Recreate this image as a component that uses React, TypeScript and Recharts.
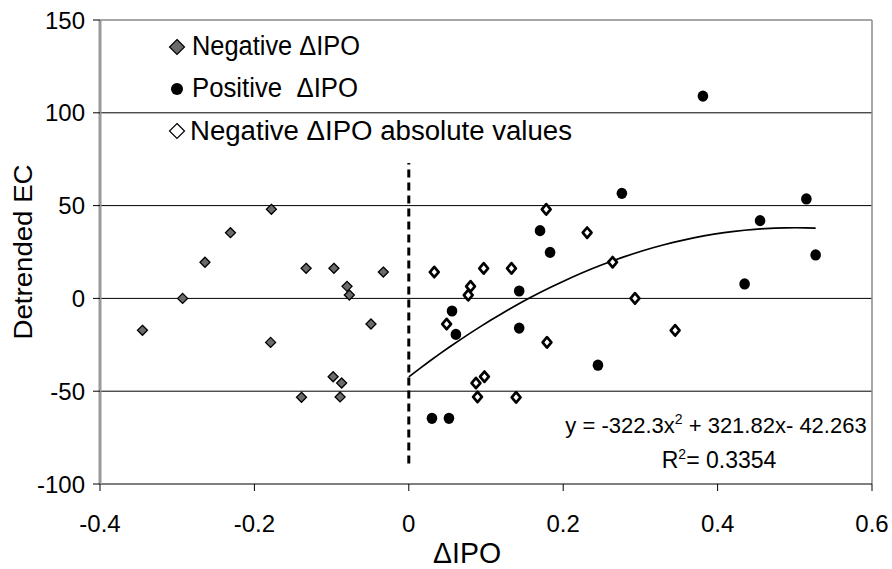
import React from 'react';
import { ScatterChart, Scatter, XAxis, YAxis, ReferenceLine } from 'recharts';

// Negative ΔIPO (grey diamonds)
const negativeIPO = [
  { x: -0.345, y: -17.2 },
  { x: -0.293, y: 0 },
  { x: -0.264, y: 19.5 },
  { x: -0.231, y: 35.4 },
  { x: -0.178, y: 48 },
  { x: -0.179, y: -23.7 },
  { x: -0.133, y: 16.2 },
  { x: -0.097, y: 16.2 },
  { x: -0.08, y: 6.5 },
  { x: -0.077, y: 1.8 },
  { x: -0.033, y: 14.2 },
  { x: -0.049, y: -13.8 },
  { x: -0.098, y: -42.2 },
  { x: -0.087, y: -45.6 },
  { x: -0.139, y: -53.3 },
  { x: -0.089, y: -53.1 },
];

// Positive ΔIPO (black circles)
const positiveIPO = [
  { x: 0.03, y: -64.6 },
  { x: 0.052, y: -64.6 },
  { x: 0.056, y: -6.8 },
  { x: 0.061, y: -19.4 },
  { x: 0.143, y: 4 },
  { x: 0.143, y: -16 },
  { x: 0.17, y: 36.5 },
  { x: 0.183, y: 24.8 },
  { x: 0.245, y: -36 },
  { x: 0.276, y: 56.6 },
  { x: 0.381, y: 109 },
  { x: 0.435, y: 7.8 },
  { x: 0.455, y: 41.9 },
  { x: 0.515, y: 53.6 },
  { x: 0.527, y: 23.4 },
];

// Negative ΔIPO absolute values (hollow diamonds) = |x| of the negative series
const negativeAbsIPO = negativeIPO.map((p) => ({ x: Math.abs(p.x), y: p.y }));

// Polynomial trendline printed on the chart
const trendCoef = { a: -322.3, b: 321.82, c: -42.263 };
const trendRange = [0, 0.527];
const trendSteps = 40;
const trendPoints = Array.from({ length: trendSteps + 1 }, (_, i) => {
  const x = trendRange[0] + ((trendRange[1] - trendRange[0]) * i) / trendSteps;
  return { x, y: trendCoef.a * x * x + trendCoef.b * x + trendCoef.c };
});

const xTicks = [-0.4, -0.2, 0, 0.2, 0.4, 0.6];
const yTicks = [-100, -50, 0, 50, 100, 150];
const gridValues = [-50, 0, 50, 100];
const divider = { x: 0, yFrom: -89, yTo: 73 };

const legendLabels = ['Negative ΔIPO', 'Positive\u00A0\u00A0ΔIPO', 'Negative ΔIPO absolute values'];

const FONT = '"Liberation Sans", Arial, sans-serif';

const GrayDiamond = (p: any) => {
  const { cx, cy } = p;
  if (cx == null || cy == null) return <g />;
  const s = 5;
  return (
    <polygon
      points={`${cx},${cy - s} ${cx + s},${cy} ${cx},${cy + s} ${cx - s},${cy}`}
      fill="#6b6b6b"
      stroke="#000"
      strokeWidth={1.3}
    />
  );
};

const HollowDiamond = (p: any) => {
  const { cx, cy } = p;
  if (cx == null || cy == null) return <g />;
  const sx = 4.4;
  const sy = 5.2;
  return (
    <polygon
      points={`${cx},${cy - sy} ${cx + sx},${cy} ${cx},${cy + sy} ${cx - sx},${cy}`}
      fill="#fff"
      stroke="#000"
      strokeWidth={2.7}
      strokeLinejoin="round"
    />
  );
};

const BlackDot = (p: any) => {
  const { cx, cy } = p;
  if (cx == null || cy == null) return <g />;
  return <ellipse cx={cx} cy={cy} rx={5.3} ry={5.6} fill="#000" />;
};

const NoShape = () => <g />;

export default function App() {
  return (
    <div style={{ position: 'absolute', left: 0, top: 0, width: 892, height: 569, background: '#fff' }}>
      <ScatterChart
        width={892}
        height={569}
        margin={{ top: 20, right: 20, bottom: 0, left: 0 }}
        style={{ fontFamily: FONT }}
      >
        <XAxis
          type="number"
          dataKey="x"
          domain={[-0.4, 0.6]}
          ticks={xTicks}
          allowDataOverflow
          height={85}
          tickSize={7}
          tickMargin={24}
          axisLine={{ stroke: '#000', strokeWidth: 1.2 }}
          tickLine={{ stroke: '#000', strokeWidth: 1 }}
          tick={{ fill: '#000', fontSize: 24, fontFamily: FONT }}
          tickFormatter={(v: number) => String(v)}
        />
        <YAxis
          type="number"
          dataKey="y"
          domain={[-100, 150]}
          ticks={yTicks}
          allowDataOverflow
          width={100}
          tickSize={7}
          tickMargin={8}
          axisLine={{ stroke: '#9a9a9a', strokeWidth: 3 }}
          tickLine={{ stroke: '#000', strokeWidth: 1 }}
          tick={{ fill: '#000', fontSize: 24, fontFamily: FONT }}
        />
        {gridValues.map((v) => (
          <ReferenceLine key={v} y={v} stroke="#000" strokeWidth={1} />
        ))}
        <ReferenceLine y={150} stroke="#8a8a8a" strokeWidth={1.5} />
        <ReferenceLine x={0.6} stroke="#8a8a8a" strokeWidth={1.5} />
        <ReferenceLine
          segment={[
            { x: divider.x, y: divider.yFrom },
            { x: divider.x, y: divider.yTo },
          ]}
          stroke="#000"
          strokeWidth={3}
          strokeDasharray="8 5"
        />
        <Scatter
          name="trend"
          data={trendPoints}
          line={{ stroke: '#000', strokeWidth: 1.7 }}
          lineType="joint"
          shape={NoShape}
          isAnimationActive={false}
        />
        <Scatter name="Negative ΔIPO" data={negativeIPO} shape={GrayDiamond} isAnimationActive={false} />
        <Scatter name="Positive ΔIPO" data={positiveIPO} shape={BlackDot} isAnimationActive={false} />
        <Scatter
          name="Negative ΔIPO absolute values"
          data={negativeAbsIPO}
          shape={HollowDiamond}
          isAnimationActive={false}
        />

        {/* Axis titles */}
        <text
          x={32}
          y={252}
          transform="rotate(-90 32 252)"
          textAnchor="middle"
          fontSize={26}
          fontFamily={FONT}
          fill="#000"
          textLength={175}
          lengthAdjust="spacingAndGlyphs"
        >
          Detrended EC
        </text>
        <text
          x={467}
          y={563}
          textAnchor="middle"
          fontSize={30}
          fontFamily={FONT}
          fill="#000"
          textLength={68}
          lengthAdjust="spacingAndGlyphs"
        >
          ΔIPO
        </text>

        {/* Legend */}
        <g fontFamily={FONT} fill="#000">
          <polygon points="177,39.5 184.5,47 177,54.5 169.5,47" fill="#6b6b6b" stroke="#000" strokeWidth={1.2} />
          <text x={192} y={55} fontSize={27} textLength={168} lengthAdjust="spacingAndGlyphs">
            {legendLabels[0]}
          </text>
          <circle cx={177} cy={89} r={6} fill="#000" />
          <text x={192} y={97} fontSize={27} textLength={166} lengthAdjust="spacingAndGlyphs">
            {legendLabels[1]}
          </text>
          <polygon points="177,123.5 184.5,131 177,138.5 169.5,131" fill="#fff" stroke="#000" strokeWidth={1.2} />
          <text x={190} y={140} fontSize={27} textLength={382} lengthAdjust="spacingAndGlyphs">
            {legendLabels[2]}
          </text>
        </g>

        {/* Trendline equation */}
        <g fontFamily={FONT} fill="#000">
          <text x={716} y={433} textAnchor="middle" fontSize={22}>
            {'y = -322.3x'}
            <tspan dy={-9} fontSize={14}>2</tspan>
            <tspan dy={9}>{' + 321.82x- 42.263'}</tspan>
          </text>
          <text x={719} y={468} textAnchor="middle" fontSize={23}>
            {'R'}
            <tspan dy={-9} fontSize={14}>2</tspan>
            <tspan dy={9}>{'= 0.3354'}</tspan>
          </text>
        </g>
      </ScatterChart>
    </div>
  );
}
